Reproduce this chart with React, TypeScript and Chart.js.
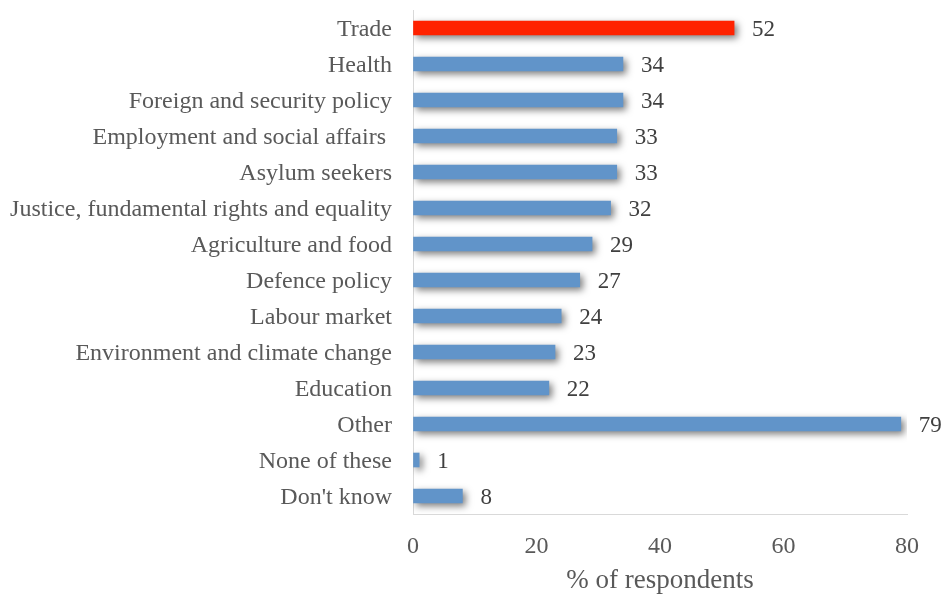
import React, { useEffect, useRef } from "react";
import { Chart, registerables } from "chart.js";

Chart.register(...registerables);

const categories = [
  "Trade",
  "Health",
  "Foreign and security policy",
  "Employment and social affairs ",
  "Asylum seekers",
  "Justice, fundamental rights and equality",
  "Agriculture and food",
  "Defence policy",
  "Labour market",
  "Environment and climate change",
  "Education",
  "Other",
  "None of these",
  "Don't know",
];
const values = [52, 34, 34, 33, 33, 32, 29, 27, 24, 23, 22, 79, 1, 8];
const highlightIndex = 0;
const xTicks = [0, 20, 40, 60, 80];
const xTitle = "% of respondents";

const FONT = "'Liberation Serif', 'Times New Roman', serif";

const shadowPlugin = {
  id: "barShadow",
  beforeDatasetsDraw(chart: any) {
    const ctx = chart.ctx;
    ctx.save();
    ctx.shadowColor = "rgba(0,0,0,0.5)";
    ctx.shadowBlur = 7;
    ctx.shadowOffsetX = 3;
    ctx.shadowOffsetY = 3;
  },
  afterDatasetsDraw(chart: any) {
    chart.ctx.restore();
  },
};

const labelPlugin = {
  id: "valueLabels",
  afterDraw(chart: any) {
    const ctx = chart.ctx;
    const meta = chart.getDatasetMeta(0);
    ctx.save();
    ctx.font = `23px ${FONT}`;
    ctx.fillStyle = "#404040";
    ctx.textAlign = "left";
    ctx.textBaseline = "middle";
    meta.data.forEach((bar: any, i: number) => {
      ctx.fillText(String(values[i]), bar.x + 18, bar.y + 2);
    });
    ctx.restore();
  },
};

export default function App() {
  const ref = useRef<HTMLCanvasElement | null>(null);
  useEffect(() => {
    document.body.style.margin = "0";
    const canvas = ref.current!;
    const chart = new Chart(canvas, {
      type: "bar",
      data: {
        labels: categories,
        datasets: [
          {
            data: values,
            backgroundColor: values.map((_, i) => (i === highlightIndex ? "#FF2200" : "#6194C9")),
            barThickness: 14,
            borderWidth: 0,
          },
        ],
      },
      options: {
        indexAxis: "y",
        animation: false,
        responsive: false,
        maintainAspectRatio: false,
        layout: { padding: { top: 10, right: 39, left: 0, bottom: 0 } },
        plugins: { legend: { display: false }, tooltip: { enabled: false } },
        scales: {
          x: {
            min: 0,
            max: 80,
            afterBuildTicks: (scale: any) => {
              scale.ticks = xTicks.map((v) => ({ value: v }));
            },
            afterFit: (scale: any) => {
              scale.height = 87;
            },
            grid: { color: "transparent", drawTicks: false },
            border: { display: true, color: "#d9d9d9", width: 1 },
            ticks: {
              padding: 18,
              color: "#595959",
              font: { family: FONT, size: 24 },
            },
            title: {
              display: true,
              text: xTitle,
              color: "#595959",
              font: { family: FONT, size: 27 },
              padding: { top: 0, bottom: 4 },
            },
          },
          y: {
            afterFit: (scale: any) => {
              scale.width = 413;
              scale.paddingTop = 0;
              scale.paddingBottom = 0;
            },
            grid: { color: "transparent", drawTicks: false },
            border: { display: true, color: "#d9d9d9", width: 1 },
            ticks: {
              padding: 21,
              labelOffset: 2,
              color: "#595959",
              font: { family: FONT, size: 24 },
              autoSkip: false,
            },
          },
        },
      },
      plugins: [shadowPlugin, labelPlugin],
    });
    return () => chart.destroy();
  }, []);
  return (
    <div style={{ width: 946, height: 601 }}>
      <canvas ref={ref} width={946} height={601} style={{ display: "block" }} />
    </div>
  );
}
